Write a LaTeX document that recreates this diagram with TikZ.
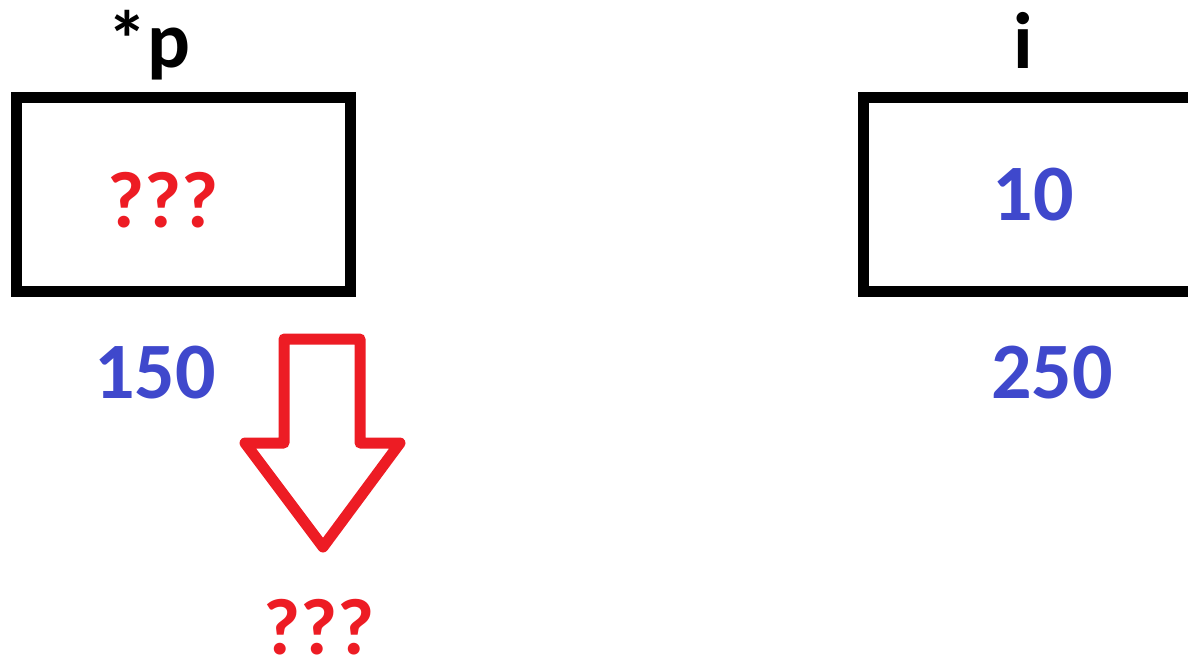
\documentclass[tikz,border=0pt]{standalone}
\usepackage{fontspec}
\setmainfont{Carlito}
\definecolor{pred}{RGB}{237,28,36}
\definecolor{pblue}{RGB}{63,72,204}
\usetikzlibrary{positioning}

\begin{document}
\begin{tikzpicture}[x=0.75pt, y=-0.75pt,
  every node/.style={font=\fontsize{60}{60}\selectfont\bfseries, inner sep=0pt, anchor=base},
  cell/.style={draw, line width=8.25pt, minimum width=250.5pt, minimum height=145.5pt, anchor=center},
  val/.style={text=pblue}, unk/.style={text=pred}]
\useasboundingbox (0,0) rectangle (1188,663);
\clip (0,0) rectangle (1188,663);
% Memory cells
\node[cell] (pbox) at (183.5,194.5) {};
\node[cell] (ibox) at (1030.5,194.5) {};
% Names
\node (pname) at (149,68) {*p};
\node (iname) at (1023,69) {i};
% Contents
\node[unk] (pval) at (163,227) {???};
\node[val] (ival) at (1033,220) {10};
% Addresses
\node[val] (paddr) at (155,398) {150};
\node[val] (iaddr) at (1052,398) {250};
% Dereference
\coordinate (top) at (322,339);
\node[unk] (deref) at (319,654) {???};
\draw[pred, line width=8.25pt, line join=round]
  (top) ++(-38,0) -- ++(76,0) -- ++(0,104) -- ++(40,0) -- ++(-77,104)
  -- ++(-78,-104) -- ++(39,0) -- cycle;
\end{tikzpicture}
\end{document}
